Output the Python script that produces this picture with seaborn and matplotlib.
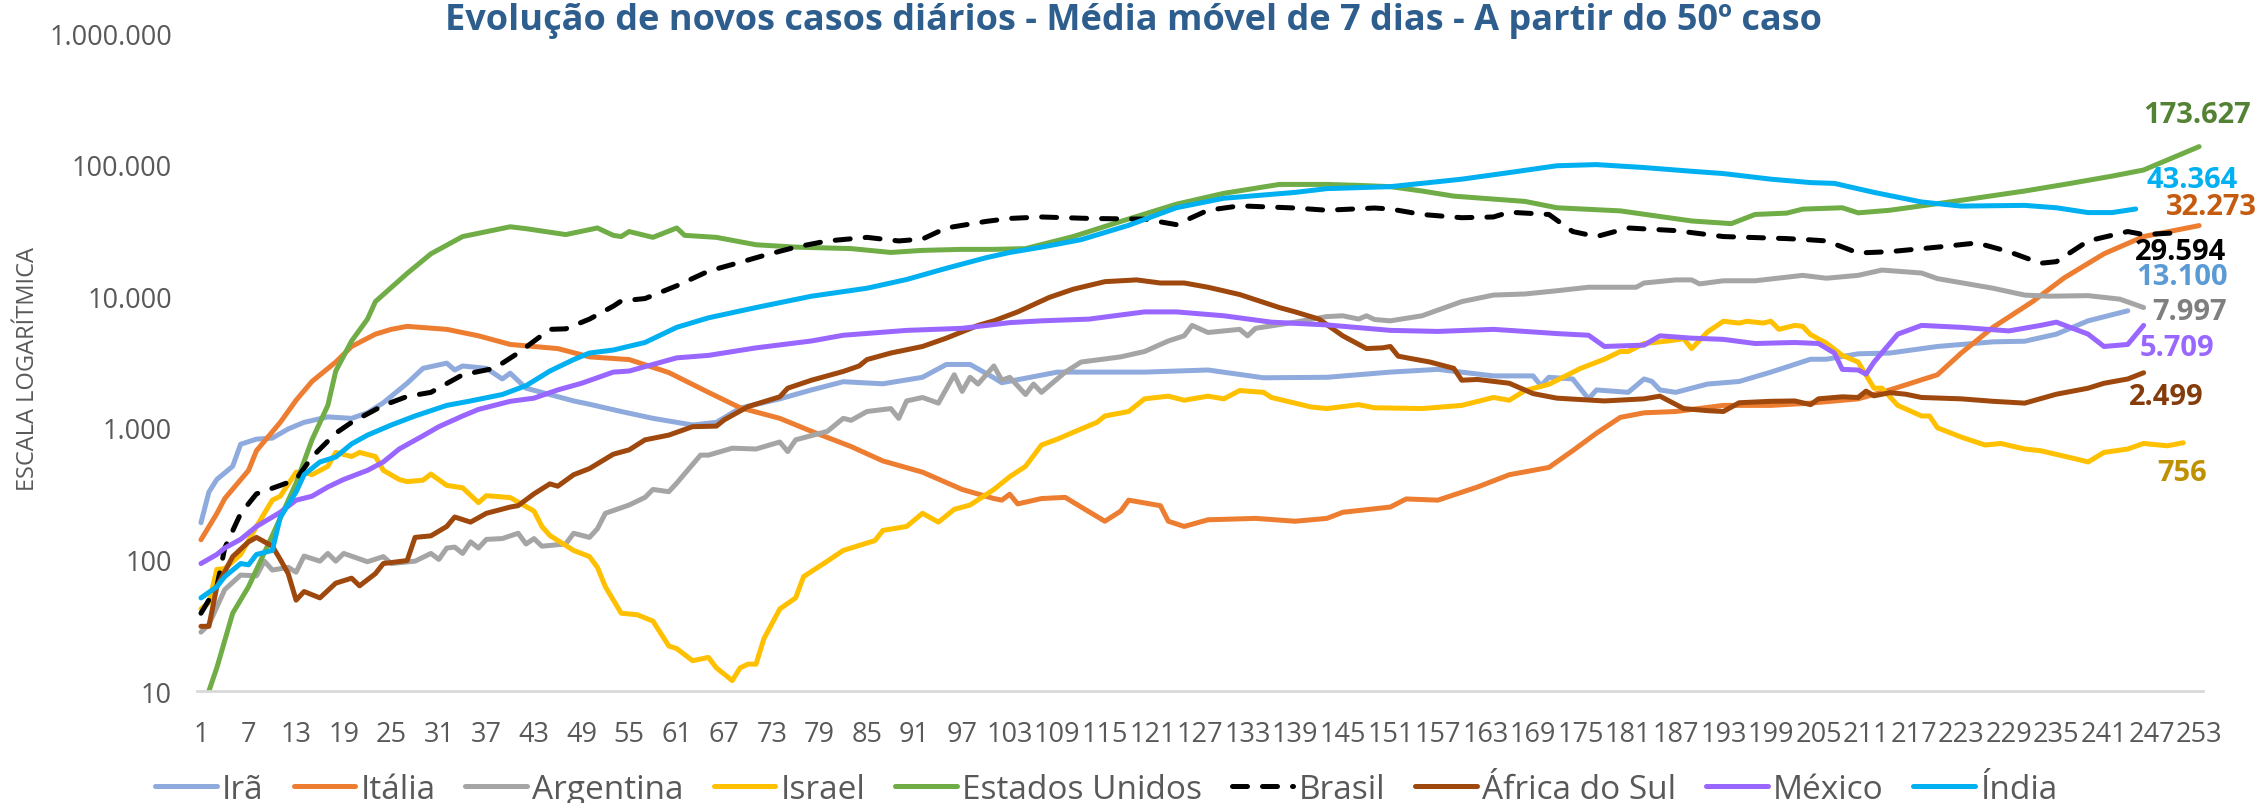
import pandas as pd
import matplotlib
matplotlib.use("Agg")
import matplotlib.pyplot as plt
from matplotlib.ticker import FixedLocator, FuncFormatter, NullLocator
import seaborn as sns

sns.set_theme(style="white")
plt.rcParams['font.family'] = ['Open Sans', 'DejaVu Sans']

# ---- dados (média móvel de 7 dias) ----
ira_dias = [1, 2, 3, 5, 6, 8, 10, 12, 14, 17,
            20, 22, 24, 27, 29, 32, 33, 34, 37, 39,
            40, 42, 45, 48, 50, 54, 58, 63, 66, 69,
            74, 78, 82, 87, 92, 95, 98, 101, 102, 109,
            120, 128, 135, 143, 151, 157, 164, 169, 170, 171,
            174, 176, 177, 181, 183, 184, 185, 187, 191, 195,
            199, 204, 206, 210, 214, 220, 227, 231, 235, 239,
            244]
ira_casos = [190, 325, 405, 510, 750, 820, 835, 980, 1100, 1210,
             1180, 1300, 1550, 2180, 2830, 3100, 2750, 2950, 2830, 2350,
             2600, 2000, 1790, 1600, 1510, 1330, 1180, 1050, 1100, 1410,
             1660, 1940, 2240, 2160, 2420, 3030, 3030, 2400, 2200, 2650,
             2650, 2750, 2400, 2420, 2650, 2780, 2480, 2480, 2090, 2420,
             2350, 1660, 1940, 1860, 2350, 2250, 1940, 1860, 2150, 2250,
             2650, 3320, 3320, 3650, 3700, 4150, 4500, 4550, 5150, 6500,
             7750]

italia_dias = [1, 3, 4, 7, 8, 11, 13, 15, 18, 20,
               23, 25, 27, 32, 36, 40, 46, 50, 55, 60,
               65, 69, 74, 78, 83, 87, 92, 97, 101, 102,
               103, 104, 107, 110, 112, 115, 117, 118, 122, 123,
               125, 128, 134, 139, 143, 145, 151, 153, 157, 162,
               166, 171, 174, 177, 180, 183, 187, 193, 199, 204,
               210, 214, 220, 223, 227, 232, 236, 241, 246, 253]
italia_casos = [141, 223, 290, 475, 670, 1100, 1620, 2250, 3160, 4150,
                5150, 5600, 5900, 5600, 5000, 4300, 4000, 3460, 3300, 2630,
                1860, 1420, 1180, 940, 720, 560, 460, 340, 290, 282,
                313, 264, 290, 296, 250, 195, 233, 282, 256, 195,
                178, 200, 205, 195, 205, 228, 250, 288, 282, 355,
                440, 500, 670, 910, 1200, 1300, 1330, 1480, 1480, 1540,
                1660, 1940, 2530, 3700, 5800, 9100, 13800, 21000, 28400, 34400]

argentina_dias = [1, 2, 4, 6, 8, 9, 10, 12, 13, 14,
                  16, 17, 18, 19, 22, 24, 25, 28, 30, 31,
                  32, 33, 34, 35, 36, 37, 39, 41, 42, 43,
                  44, 47, 48, 50, 51, 52, 55, 57, 58, 60,
                  61, 64, 65, 68, 71, 74, 75, 76, 80, 82,
                  83, 85, 88, 89, 90, 92, 94, 96, 97, 98,
                  99, 101, 102, 103, 105, 106, 107, 110, 112, 117,
                  120, 123, 125, 126, 128, 132, 133, 134, 139, 143,
                  145, 147, 148, 149, 151, 155, 160, 164, 168, 172,
                  176, 182, 183, 187, 189, 190, 193, 197, 203, 206,
                  210, 213, 218, 220, 227, 231, 234, 239, 243, 246]
argentina_casos = [28, 32, 59, 76, 75, 97, 83, 87, 80, 106,
                   97, 111, 97, 111, 96, 105, 93, 97, 111, 100,
                   122, 124, 111, 136, 122, 142, 144, 158, 131, 144,
                   126, 131, 158, 147, 171, 224, 259, 296, 340, 327,
                   380, 620, 620, 700, 690, 780, 660, 810, 940, 1180,
                   1140, 1330, 1400, 1180, 1600, 1700, 1540, 2530, 1890, 2420,
                   2150, 2950, 2300, 2420, 1790, 2150, 1860, 2650, 3160, 3460,
                   3800, 4570, 5000, 6000, 5300, 5600, 5000, 5700, 6350, 7000,
                   7100, 6700, 7100, 6650, 6500, 7100, 9100, 10200, 10400, 11000,
                   11700, 11700, 12600, 13300, 13300, 12400, 13100, 13100, 14400, 13700,
                   14400, 15800, 15000, 13600, 11500, 10200, 10000, 10100, 9500, 8200]

israel_dias = [1, 2, 3, 4, 6, 8, 10, 11, 13, 14,
               15, 17, 18, 20, 21, 23, 24, 26, 27, 29,
               30, 32, 34, 36, 37, 40, 43, 44, 45, 48,
               50, 51, 52, 54, 56, 58, 60, 61, 63, 65,
               66, 68, 69, 70, 71, 72, 74, 76, 77, 80,
               82, 86, 87, 90, 92, 94, 96, 98, 101, 103,
               105, 107, 109, 112, 114, 115, 118, 120, 123, 125,
               128, 130, 132, 135, 136, 141, 143, 147, 149, 155,
               160, 164, 166, 168, 171, 175, 178, 180, 181, 183,
               186, 188, 189, 191, 193, 195, 196, 198, 199, 200,
               202, 203, 204, 206, 208, 210, 212, 213, 215, 218,
               219, 220, 223, 226, 228, 231, 233, 238, 239, 241,
               244, 246, 249, 251]
israel_casos = [42, 47, 84, 85, 109, 178, 282, 302, 460, 460,
                440, 510, 650, 605, 650, 605, 475, 405, 390, 400,
                445, 365, 350, 270, 305, 295, 233, 178, 152, 117,
                105, 87, 62, 39, 38, 34, 22, 21, 17, 18,
                15, 12, 15, 16, 16, 25, 42, 51, 74, 97,
                117, 139, 166, 178, 224, 192, 240, 259, 340, 425,
                510, 740, 820, 980, 1100, 1230, 1330, 1660, 1740, 1620,
                1740, 1660, 1920, 1860, 1700, 1440, 1400, 1500, 1420, 1400,
                1480, 1700, 1620, 1920, 2140, 2830, 3320, 3800, 3800, 4370,
                4570, 4750, 4000, 5350, 6450, 6250, 6450, 6250, 6450, 5600,
                6000, 5900, 5100, 4400, 3550, 3160, 2000, 2000, 1480, 1230,
                1230, 1000, 850, 740, 760, 690, 670, 570, 550, 650,
                690, 760, 730, 770]

eua_dias = [2, 3, 5, 7, 10, 13, 15, 17, 18, 20,
            22, 23, 27, 30, 34, 40, 42, 47, 51, 53,
            54, 55, 58, 61, 62, 66, 71, 76, 83, 88,
            92, 97, 101, 105, 111, 117, 124, 130, 137, 143,
            147, 151, 155, 159, 168, 172, 180, 189, 194, 197,
            201, 203, 208, 210, 214, 222, 231, 236, 242, 246,
            250, 253]
eua_casos = [10, 15, 39, 62, 152, 380, 810, 1480, 2700, 4570,
             6700, 9100, 14900, 21000, 28400, 33700, 32600, 29400, 33000, 29000,
             28400, 31000, 28000, 33000, 29000, 28000, 24600, 23600, 23000, 21500,
             22300, 22700, 22700, 23000, 28400, 37000, 50000, 60500, 70700, 70700,
             69500, 68000, 63000, 57600, 52500, 47000, 44500, 37300, 35600, 41800,
             42800, 45900, 47000, 43000, 45000, 52500, 63000, 70700, 81700, 91000,
             115000, 137000]

brasil_dias = [1, 3, 4, 6, 8, 11, 13, 15, 18, 20,
               24, 27, 30, 34, 38, 41, 45, 47, 50, 53,
               54, 57, 61, 65, 69, 72, 76, 80, 85, 89,
               92, 95, 100, 103, 107, 113, 120, 124, 128, 132,
               139, 143, 149, 151, 155, 160, 164, 166, 171, 174,
               177, 181, 187, 193, 201, 204, 206, 210, 214, 220,
               225, 229, 233, 235, 239, 244, 246, 251]
brasil_casos = [39, 62, 122, 223, 315, 365, 405, 600, 910, 1100,
                1480, 1730, 1860, 2530, 2830, 3700, 5600, 5650, 6700, 8400,
                9200, 9600, 12000, 15500, 18100, 20400, 23600, 26300, 28000, 26300,
                27200, 33000, 37000, 39000, 40000, 39000, 38500, 35000, 45000, 48600,
                46800, 45000, 46800, 46000, 41800, 39500, 40000, 43500, 41800, 31000,
                28400, 33000, 31500, 28400, 27400, 26800, 26300, 21300, 21800, 23600,
                25400, 21800, 17800, 18300, 26300, 31000, 29400, 30500]

africa_dias = [1, 2, 3, 5, 7, 8, 10, 11, 12, 13,
               14, 16, 18, 20, 21, 23, 24, 27, 28, 30,
               32, 33, 35, 37, 40, 41, 43, 45, 46, 48,
               50, 53, 55, 57, 60, 63, 66, 67, 70, 74,
               75, 78, 82, 84, 85, 88, 92, 95, 99, 101,
               104, 108, 111, 115, 119, 122, 125, 128, 132, 137,
               139, 142, 145, 148, 150, 151, 152, 156, 159, 160,
               162, 166, 169, 172, 178, 183, 185, 188, 191, 193,
               195, 199, 202, 204, 205, 208, 210, 211, 212, 214,
               216, 218, 223, 227, 231, 235, 239, 241, 244, 246]
africa_casos = [31, 31, 62, 105, 136, 147, 126, 100, 78, 49,
                57, 51, 66, 72, 63, 78, 93, 98, 147, 151,
                178, 210, 192, 224, 250, 256, 315, 375, 360, 440,
                490, 630, 680, 810, 880, 1020, 1030, 1150, 1450, 1720,
                2000, 2300, 2680, 2950, 3300, 3700, 4150, 4800, 6000, 6500,
                7600, 9800, 11300, 12900, 13300, 12600, 12600, 11700, 10300, 8200,
                7600, 6700, 5000, 4000, 4050, 4150, 3500, 3160, 2830, 2300,
                2330, 2180, 1820, 1680, 1600, 1660, 1740, 1400, 1350, 1330,
                1550, 1590, 1600, 1500, 1660, 1720, 1700, 1900, 1750, 1850,
                1800, 1700, 1660, 1590, 1540, 1800, 2000, 2180, 2350, 2620]

mexico_dias = [1, 3, 4, 6, 8, 11, 13, 15, 17, 19,
               22, 24, 26, 29, 31, 34, 36, 40, 43, 46,
               49, 53, 55, 61, 65, 71, 78, 82, 90, 97,
               103, 107, 113, 120, 124, 130, 136, 143, 151, 157,
               164, 170, 172, 176, 178, 183, 185, 189, 193, 197,
               202, 205, 207, 208, 210, 211, 212, 215, 218, 223,
               229, 233, 235, 239, 241, 244, 246]
mexico_casos = [93, 109, 122, 142, 178, 228, 282, 302, 355, 405,
                475, 550, 690, 870, 1020, 1230, 1380, 1590, 1680, 1940,
                2180, 2650, 2700, 3400, 3550, 4050, 4570, 5050, 5500, 5700,
                6300, 6500, 6700, 7600, 7600, 7100, 6350, 6050, 5500, 5400,
                5600, 5300, 5200, 5050, 4150, 4250, 5000, 4800, 4700, 4370,
                4450, 4370, 3700, 2780, 2750, 2560, 3160, 5150, 6000, 5800,
                5450, 6000, 6350, 5150, 4150, 4300, 6000]

india_dias = [1, 3, 4, 6, 7, 8, 10, 11, 13, 14,
              16, 18, 20, 22, 25, 28, 32, 35, 39, 42,
              45, 48, 50, 53, 57, 61, 65, 71, 78, 85,
              90, 95, 100, 103, 107, 112, 118, 124, 130, 139,
              143, 151, 160, 166, 172, 177, 183, 189, 193, 199,
              204, 207, 212, 218, 223, 231, 235, 239, 242, 245]
india_casos = [51, 62, 74, 93, 91, 109, 117, 209, 326, 440,
               550, 600, 755, 880, 1050, 1230, 1480, 1600, 1790, 2090,
               2700, 3300, 3700, 3900, 4450, 5800, 6850, 8200, 10000, 11500,
               13400, 16300, 19600, 21500, 23600, 26900, 34600, 47000, 55500, 61500,
               65700, 68000, 77500, 87000, 98000, 100000, 95000, 89000, 85500, 77500,
               73000, 72000, 61500, 52000, 48400, 49000, 47000, 43200, 43200, 46000]

paises = ["Irã", "Itália", "Argentina", "Israel", "Estados Unidos",
          "Brasil", "África do Sul", "México", "Índia"]
cores = ["#8FAADC", "#ED7D31", "#A5A5A5", "#FFC000", "#70AD47",
         "#000000", "#9E480E", "#9966FF", "#00B0F0"]
dias_series = [ira_dias, italia_dias, argentina_dias, israel_dias, eua_dias,
               brasil_dias, africa_dias, mexico_dias, india_dias]
casos_series = [ira_casos, italia_casos, argentina_casos, israel_casos, eua_casos,
                brasil_casos, africa_casos, mexico_casos, india_casos]

# rótulos do último valor
rotulos_texto = ["173.627", "43.364", "32.273", "29.594", "13.100",
                 "7.997", "5.709", "2.499", "756"]
rotulos_cor = ["#548235", "#00B0F0", "#C55A11", "#000000", "#5B9BD5",
               "#7F7F7F", "#9966FF", "#843C0C", "#BF9000"]
rotulos_x = [252.7, 252.1, 254.6, 250.6, 250.8, 251.8, 250.2, 248.9, 250.8]
rotulos_y = [240000, 77600, 48000, 21700, 14100, 7600, 4100, 1740, 460]

fig = plt.figure(figsize=(22.67, 8.04), dpi=100)
ax = fig.add_axes([0.0869, 0.1393, 0.8849, 0.8184])

for nome, dias, casos, cor in zip(paises, dias_series, casos_series, cores):
    df = pd.DataFrame({"dia": dias, "casos": casos})
    if nome == "Brasil":
        sns.lineplot(data=df, x="dia", y="casos", ax=ax, color=cor, lw=3.6,
                     label=nome, linestyle=(0, (3, 3)), dash_capstyle="round")
    else:
        sns.lineplot(data=df, x="dia", y="casos", ax=ax, color=cor, lw=3.6,
                     label=nome, solid_capstyle="round")

ax.set_yscale("log")
ax.set_ylim(10, 1e6)
ax.set_xlim(0.5, 253.5)
ax.yaxis.set_major_locator(FixedLocator([10, 100, 1e3, 1e4, 1e5, 1e6]))
ax.yaxis.set_minor_locator(NullLocator())
ax.yaxis.set_major_formatter(FuncFormatter(lambda v, p: f"{int(round(v)):,}".replace(",", ".")))
ax.xaxis.set_major_locator(FixedLocator(list(range(1, 254, 6))))
ax.xaxis.set_major_formatter(FuncFormatter(lambda v, p: f"{int(v)}"))
ax.tick_params(axis="both", length=0, labelsize=19.5, labelcolor="#595959")
ax.tick_params(axis="y", pad=18)
ax.tick_params(axis="x", pad=21)
ax.set_xlabel("")
ax.set_ylabel("")
for s in ["top", "right", "left"]:
    ax.spines[s].set_visible(False)
ax.spines["bottom"].set_color("#D9D9D9")
ax.spines["bottom"].set_linewidth(2)
ax.grid(False)

for txt, cor, x, y in zip(rotulos_texto, rotulos_cor, rotulos_x, rotulos_y):
    ax.text(x, y, txt, color=cor, fontsize=21, fontweight="bold",
            ha="center", va="center", clip_on=False)

handles, labels = ax.get_legend_handles_labels()
if ax.get_legend() is not None:
    ax.get_legend().remove()
fig.legend(handles, labels, loc="center", bbox_to_anchor=(0.488, 0.0174), ncol=9,
           frameon=False, fontsize=24, handlelength=1.85, handletextpad=0.15,
           columnspacing=0.9, labelcolor="#595959")

fig.text(0.5, 0.9627, "Evolução de novos casos diários - Média móvel de 7 dias - A partir do 50º caso",
         ha="center", va="baseline", fontsize=26, fontweight="bold", color="#2E5E8E")
fig.text(28 / 2267, 1 - 369 / 804, "ESCALA LOGARÍTMICA", rotation=90, ha="center",
         va="center", fontsize=17, color="#595959")

fig.savefig("out.png", dpi=100)
